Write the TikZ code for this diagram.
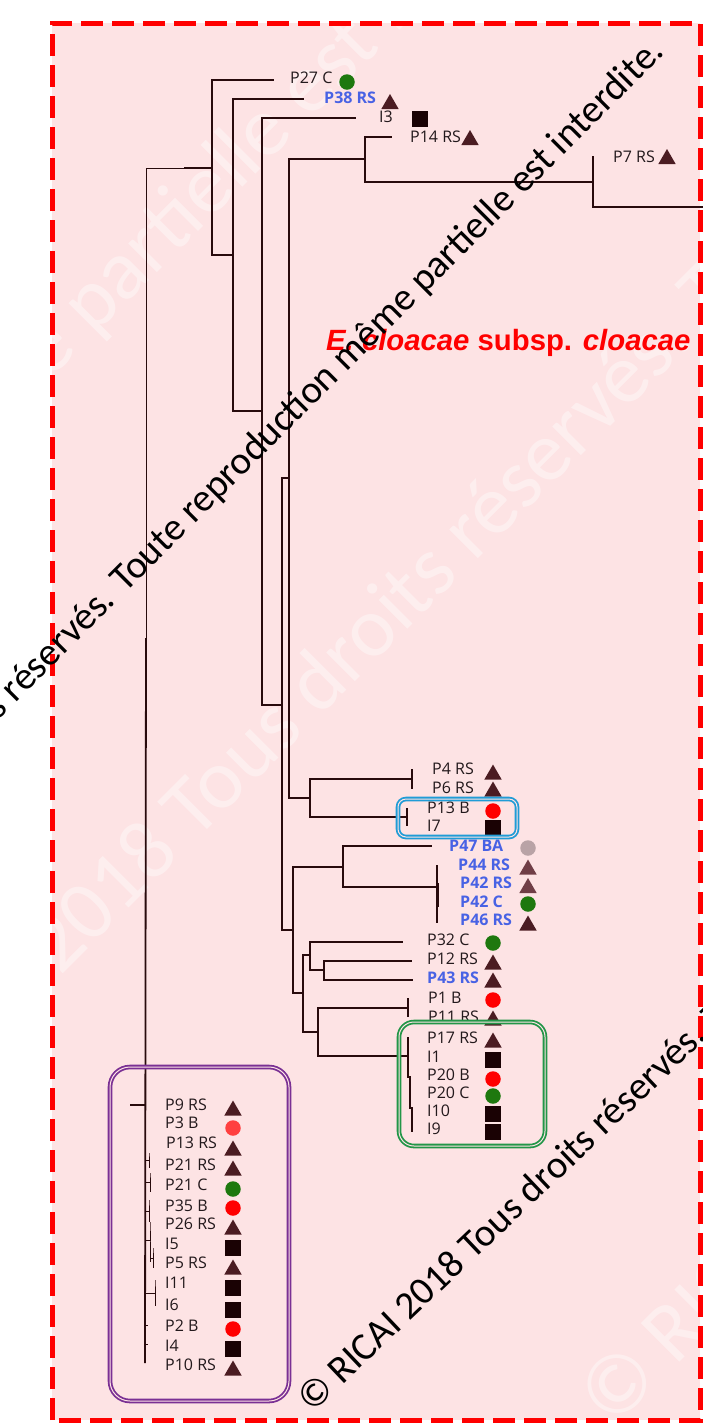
\documentclass[tikz,border=0pt]{standalone}
\usepackage{fontspec}
\setmainfont{Open Sans}
\newfontfamily\wmfont{Carlito}
\newfontfamily\ttlfont{Liberation Sans}
\usetikzlibrary{shapes.geometric}
\definecolor{bgpink}{RGB}{253,227,228}
\definecolor{branchc}{RGB}{40,10,12}
\definecolor{lblc}{RGB}{35,25,28}
\definecolor{tric}{RGB}{75,28,34}
\definecolor{tricl}{RGB}{112,62,70}
\definecolor{sqc}{RGB}{26,2,4}
\definecolor{grc}{RGB}{30,120,14}
\definecolor{gyc}{RGB}{185,163,166}
\definecolor{bluec}{RGB}{72,98,228}
\definecolor{boxblue}{RGB}{32,156,214}
\definecolor{boxgreen}{RGB}{34,150,72}
\definecolor{boxpurple}{RGB}{122,48,148}

\begin{document}
\begin{tikzpicture}[x=1pt,y=-1pt,
 branch/.style={draw=branchc,line width=1.8pt},
 thinbranch/.style={draw=branchc,line width=0.9pt},
 lbl/.style={anchor=west,inner sep=0pt,text=lblc,font=\fontsize{16}{18}\selectfont},
 blbl/.style={lbl,text=bluec,font=\fontsize{16}{18}\selectfont\bfseries},
 tri/.style={regular polygon,regular polygon sides=3,fill=tric,inner sep=0pt,minimum size=20pt},
 tril/.style={tri,fill=tricl},
 sq/.style={rectangle,fill=sqc,inner sep=0pt,minimum size=15.5pt},
 rdot/.style={circle,fill=red,inner sep=0pt,minimum size=15.5pt},
 gdot/.style={rdot,fill=grc},
 gydot/.style={rdot,fill=gyc},
 grpbox/.style={draw,line width=1.8pt,double=bgpink,double distance=1pt,fill=none,inner sep=0pt},
 wmark/.style={inner sep=0pt,text=black,font=\wmfont\fontsize{39}{42}\selectfont},
 faintmark/.style={inner sep=0pt,text=white,text opacity=0.4,rotate=45,anchor=base west,font=\wmfont\fontsize{85}{90}\selectfont}]
\useasboundingbox (0,0) rectangle (703,1428);
\clip (0,0) rectangle (703,1428);
\fill[white] (0,0) rectangle (703,1428);
\fill[bgpink] (52,23) rectangle (700,1420);

% faint background marks
\node[faintmark] (fm1) at (-1418,1848) {© RICAI 2018 Tous droits réservés. Toute reproduction même partielle est interdite.};
\node[faintmark] (fm2) at (-147,1184) {© RICAI 2018 Tous droits réservés. Toute reproduction même partielle est interdite.};
\node[faintmark] (fm3) at (612,1430) {© RICAI 2018 Tous droits réservés.};

\draw[red,line width=5pt,dash pattern=on 22pt off 9pt] (52,1420) -- (52,23) -- (700,23) -- (700,1420) -- cycle;

% tree coordinates
\coordinate (r0) at (146,168);
\coordinate (rj) at (184,168);
\coordinate (rm) at (146,638);
\coordinate (rb) at (145,1363);
\coordinate (nA) at (212,168);
\coordinate (nB) at (233,255);
\coordinate (nC) at (262,411);
\coordinate (nD) at (282,705);
\coordinate (nE) at (289,478);
\coordinate (nF) at (365,159);
\coordinate (nF2) at (593,182);
\coordinate (nG) at (310,798);
\coordinate (nH) at (412,779);
\coordinate (nI) at (407,817);
\coordinate (nK) at (293,930);
\coordinate (nL) at (343,867);
\coordinate (nN) at (437,887);
\coordinate (nM) at (303,993);
\coordinate (nO) at (310,955);
\coordinate (nP) at (324,970);
\coordinate (nR) at (318,1032);
\coordinate (nS) at (408,1008);
\coordinate (nT) at (408,1056);
\coordinate (offr) at (710,207);
\coordinate (tP27) at (274,80);
\coordinate (tP38) at (304,99);
\coordinate (tI3) at (356,118);
\coordinate (tP14) at (392,137);
\coordinate (tP7) at (593,156);
\coordinate (tP4) at (412,769);
\coordinate (tP6) at (412,789);
\coordinate (tP13) at (407,808);
\coordinate (tI7) at (407,826);
\coordinate (tP47) at (432,846);
\coordinate (tP44) at (437,865);
\coordinate (tP46) at (437,923);
\coordinate (tP42a) at (437,883);
\coordinate (tP42b) at (437,907);
\coordinate (tP32) at (403,942);
\coordinate (tP12) at (412,961);
\coordinate (tP43) at (413,980);
\coordinate (tP1) at (408,998);
\coordinate (tP11) at (408,1017);
\coordinate (tP17) at (408,1037);
\coordinate (tI1) at (408,1077);
\coordinate (tP20) at (410,1077);
\coordinate (tI10) at (410,1108);
\coordinate (tI10b) at (412,1108);
\coordinate (tI9) at (412,1132);
\coordinate (tP9) at (130,1105);
\coordinate (rP9) at (145,1105);
\coordinate (g1) at (145,1160);
\coordinate (g1a) at (149,1153);
\coordinate (g1b) at (149,1168);
\coordinate (g2) at (145,1182);
\coordinate (g2a) at (150,1173);
\coordinate (g2b) at (150,1192);
\coordinate (g3) at (145,1211);
\coordinate (g3a) at (149,1200);
\coordinate (g3b) at (149,1222);
\coordinate (g4) at (145,1240);
\coordinate (g4a) at (150,1222);
\coordinate (g4b) at (150,1262);
\coordinate (g5) at (150,1258);
\coordinate (g5a) at (153,1248);
\coordinate (g5b) at (153,1268);
\coordinate (g6) at (145,1293);
\coordinate (g6a) at (155,1280);
\coordinate (g6b) at (155,1306);
\coordinate (g7) at (145,1325);
\coordinate (g7a) at (148,1325);
\coordinate (g8) at (145,1344);
\coordinate (g8a) at (148,1344);

% branches
\draw[thinbranch] (r0) -- (rm);
\draw[branch] (rm) -- (rb);
\draw[thinbranch] (r0) -- (rj);
\draw[branch] (rj) -- (nA);
\draw[branch] (nA) |- (tP27);
\draw[branch] (nA) |- (nB);
\draw[branch] (nB) |- (tP38);
\draw[branch] (nB) |- (nC);
\draw[branch] (nC) |- (tI3);
\draw[branch] (nC) |- (nD);
\draw[branch] (nD) |- (nE);
\draw[branch] (nD) |- (nK);
\draw[branch] (nE) |- (nF);
\draw[branch] (nE) |- (nG);
\draw[branch] (nF) |- (tP14);
\draw[branch] (nF) |- (nF2);
\draw[branch] (nF2) -- (tP7);
\draw[branch] (nF2) |- (offr);
\draw[branch] (nG) |- (nH);
\draw[branch] (nG) |- (nI);
\draw[branch] (nH) -- (tP4);
\draw[branch] (nH) -- (tP6);
\draw[branch] (nI) -- (tP13);
\draw[branch] (nI) -- (tI7);
\draw[branch] (nK) |- (nL);
\draw[branch] (nK) |- (nM);
\draw[branch] (nL) |- (tP47);
\draw[branch] (nL) |- (nN);
\draw[branch] (nN) -- (tP44);
\draw[branch] (nN) -- (tP46);
\draw[draw=branchc,line width=3pt] (tP42a) -- (tP42b);
\draw[branch] (nM) |- (nO);
\draw[branch] (nM) |- (nR);
\draw[branch] (nO) |- (tP32);
\draw[branch] (nO) |- (nP);
\draw[branch] (nP) |- (tP12);
\draw[branch] (nP) |- (tP43);
\draw[branch] (nR) |- (nS);
\draw[branch] (nR) |- (nT);
\draw[branch] (nS) -- (tP1);
\draw[branch] (nS) -- (tP11);
\draw[branch] (tP17) -- (tI1) -- (tP20) -- (tI10) -- (tI10b) -- (tI9);
\draw[branch] (tP9) -- (rP9);
\draw[thinbranch] (g1) -| (g1a) -- (g1b);
\draw[thinbranch] (g2) -| (g2a) -- (g2b);
\draw[thinbranch] (g3) -| (g3a) -- (g3b);
\draw[thinbranch] (g4) -| (g4a) -- (g4b);
\draw[thinbranch] (g5) -| (g5a) -- (g5b);
\draw[thinbranch] (g6) -| (g6a) -- (g6b);
\draw[thinbranch] (g7) -- (g7a);
\draw[thinbranch] (g8) -- (g8a);

% top leaves
\node[lbl] (lP27) at (290,78) {P27 C};
\node[blbl] (lP38) at (324,98) {P38 RS};
\node[lbl] (lI3) at (379,117) {I3};
\node[lbl] (lP14) at (410,137) {P14 RS};
\node[lbl] (lP7) at (613,157) {P7 RS};
\node[gdot] (sP27) at (347,82) {};
\node[tri] (sP38) at (390,104) {};
\node[sq] (sI3) at (420,119) {};
\node[tri] (sP14) at (470,140) {};
\node[tri] (sP7) at (667,159) {};

% middle leaves
\node[lbl] (lP4) at (432,769) {P4 RS};
\node[lbl] (lP6) at (432,788) {P6 RS};
\node[lbl] (lP13B) at (427,808) {P13 B};
\node[lbl] (lI7) at (427,826) {I7};
\node[blbl] (lP47) at (449,846) {P47 BA};
\node[blbl] (lP44) at (458,865) {P44 RS};
\node[blbl] (lP42RS) at (460,883) {P42 RS};
\node[blbl] (lP42C) at (460,902) {P42 C};
\node[blbl] (lP46) at (460,920) {P46 RS};
\node[lbl] (lP32) at (427,940) {P32 C};
\node[lbl] (lP12) at (427,959) {P12 RS};
\node[blbl] (lP43) at (427,978) {P43 RS};
\node[lbl] (lP1) at (428,998) {P1 B};
\node[lbl] (lP11) at (428,1017) {P11 RS};
\node[lbl] (lP17) at (427,1038) {P17 RS};
\node[lbl] (lI1) at (427,1057) {I1};
\node[lbl] (lP20B) at (427,1075) {P20 B};
\node[lbl] (lP20C) at (427,1093) {P20 C};
\node[lbl] (lI10) at (427,1111) {I10};
\node[lbl] (lI9) at (427,1129) {I9};
\node[tri] (sP4) at (493,774.5) {};
\node[tri] (sP6) at (493,791.5) {};
\node[rdot] (sP13B) at (493,811) {};
\node[sq] (sI7) at (493,828) {};
\node[gydot] (sP47) at (528,848) {};
\node[tril] (sP44) at (528,869.5) {};
\node[tril] (sP42RS) at (528,888) {};
\node[gdot] (sP42C) at (528,904) {};
\node[tri] (sP46) at (528,925.5) {};
\node[gdot] (sP32) at (493,943) {};
\node[tri] (sP12) at (493,964.5) {};
\node[tri] (sP43) at (493,982.5) {};
\node[rdot] (sP1) at (493,1000) {};
\node[tri] (sP11) at (493,1020.5) {};
\node[tri] (sP17) at (493,1042.5) {};
\node[sq] (sI1) at (493,1060) {};
\node[rdot] (sP20B) at (493,1079) {};
\node[gdot] (sP20C) at (493,1096) {};
\node[sq] (sI10) at (493,1114) {};
\node[sq] (sI9) at (493,1132) {};

% bottom group
\node[lbl] (lP9) at (165,1105) {P9 RS};
\node[lbl] (lP3) at (165,1123) {P3 B};
\node[lbl] (lP13RS) at (166,1143) {P13 RS};
\node[lbl] (lP21RS) at (165,1165) {P21 RS};
\node[lbl] (lP21C) at (165,1185) {P21 C};
\node[lbl] (lP35) at (165,1206) {P35 B};
\node[lbl] (lP26) at (165,1224) {P26 RS};
\node[lbl] (lI5) at (165,1244) {I5};
\node[lbl] (lP5) at (165,1263) {P5 RS};
\node[lbl] (lI11) at (165,1283) {I11};
\node[lbl] (lI6) at (165,1305) {I6};
\node[lbl] (lP2) at (165,1326) {P2 B};
\node[lbl] (lI4) at (165,1346) {I4};
\node[lbl] (lP10) at (165,1365) {P10 RS};
\node[tri] (sP9) at (233,1110.5) {};
\node[rdot,fill=red!75!white] (sP3) at (233,1128) {};
\node[tri] (sP13RS) at (233,1150.5) {};
\node[tri] (sP21RS) at (233,1170.5) {};
\node[gdot] (sP21C) at (233,1189) {};
\node[rdot] (sP35) at (233,1208) {};
\node[tri] (sP26) at (233,1229.5) {};
\node[sq] (sI5) at (233,1248) {};
\node[tri] (sP5) at (233,1269.5) {};
\node[sq] (sI11) at (233,1288) {};
\node[sq] (sI6) at (233,1310) {};
\node[rdot] (sP2) at (233,1329) {};
\node[sq] (sI4) at (233,1349) {};
\node[tri] (sP10) at (233,1370.5) {};

% group boxes
\node[grpbox,draw=boxblue,rounded corners=8pt,minimum width=119pt,minimum height=38pt] (boxB) at (457.5,818) {};
\node[grpbox,draw=boxgreen,rounded corners=15pt,minimum width=146pt,minimum height=124pt] (boxG) at (472,1084) {};
\node[grpbox,draw=boxpurple,rounded corners=20pt,minimum width=179pt,minimum height=334pt] (boxP) at (199.5,1234) {};

% title
\node[anchor=base west,inner sep=0pt,text=red,font=\ttlfont\bfseries\fontsize{29.3}{32}\selectfont] (ttl) at (326,350) {\textit{E. cloacae} subsp. \textit{cloacae}};

% watermarks
\node[wmark,rotate=45,anchor=base east] (wm1) at (666,53) {Tous droits réservés. Toute reproduction même partielle est interdite.};
\node[wmark,rotate=43.5,anchor=base west] (wm2) at (312,1414) {© RICAI 2018 Tous droits réservés. Toute reproduction même partielle est interdite.};
\end{tikzpicture}
\end{document}
